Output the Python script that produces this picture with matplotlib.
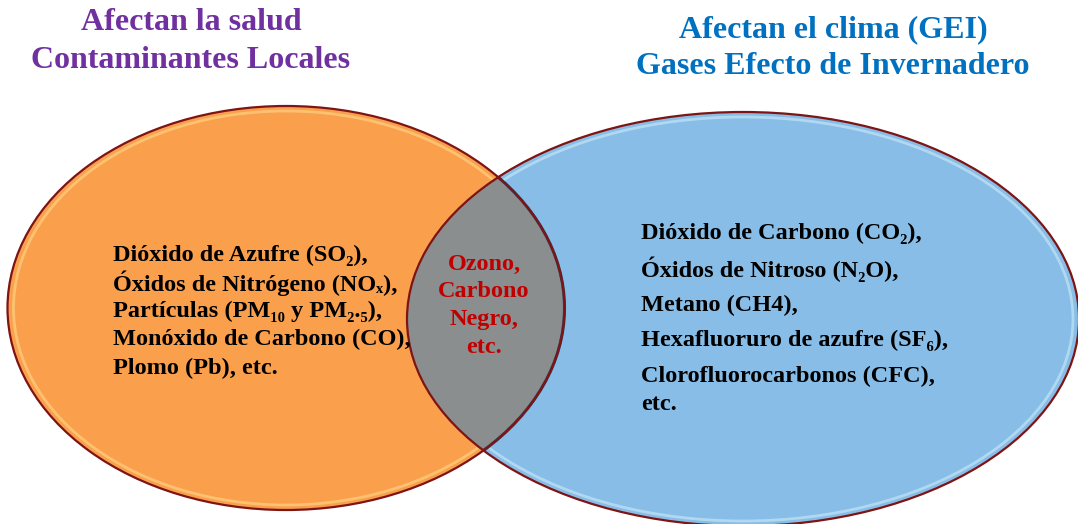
import matplotlib.pyplot as plt
from matplotlib.patches import Ellipse

# texts of the diagram
title_left = ['Afectan la salud', 'Contaminantes Locales']
title_right = ['Afectan el clima (GEI)', 'Gases Efecto de Invernadero']
salud = ['Dióxido de Azufre (SO₂),',
         'Óxidos de Nitrógeno (NOₓ),',
         'Partículas (PM₁₀ y PM₂.₅),',
         'Monóxido de Carbono (CO),',
         'Plomo (Pb), etc.']
ambos = ['Ozono,', 'Carbono', 'Negro,', 'etc.']
clima = ['Dióxido de Carbono (CO₂),',
         'Óxidos de Nitroso (N₂O),',
         'Metano (CH4),',
         'Hexafluoruro de azufre (SF₆),',
         'Clorofluorocarbonos (CFC),',
         'etc.']

fig = plt.figure(figsize=(10.78, 5.24), dpi=100)
ax = fig.add_axes([0, 0, 1, 1])
ax.set_xlim(0, 1078)
ax.set_ylim(524, 0)
ax.axis('off')

orange = '#FAA04C'
blue = '#87BDE6'
edge = '#7E1414'

lc, lw_, lh = (286, 308), 557, 404
rc, rw, rh = (743, 319), 672, 414

left = Ellipse(lc, lw_, lh, facecolor=orange, edgecolor='none', zorder=1)
right = Ellipse(rc, rw, rh, facecolor=blue, edgecolor='none', zorder=2)
ax.add_patch(left)
ax.add_patch(right)

# light inner rims (under the overlap)
ax.add_patch(Ellipse(lc, lw_ - 12, lh - 10, facecolor='none', edgecolor='#FFD98A',
                     lw=2, alpha=0.6, zorder=1.5))
ax.add_patch(Ellipse(rc, rw - 12, rh - 10, facecolor='none', edgecolor='#CDEBFA',
                     lw=2, alpha=0.6, zorder=2.5))

# overlap region: left ellipse clipped by the right one
inter = Ellipse(lc, lw_, lh, facecolor='#8A8E8E', edgecolor='#2F3F5F',
                lw=2.2, zorder=3)
ax.add_patch(inter)
inter.set_clip_path(right)

# outlines
ax.add_patch(Ellipse(lc, lw_, lh, facecolor='none', edgecolor=edge, lw=1.6, zorder=5))
ax.add_patch(Ellipse(rc, rw, rh, facecolor='none', edgecolor=edge, lw=1.6, zorder=5))

serif = 'Liberation Serif'

for i, t in enumerate(title_left):
    ax.text(191, 23 + i * 38, t, color='#7030A0', fontsize=23, fontweight='bold',
            family=serif, ha='center', va='center', zorder=6)
for i, t in enumerate(title_right):
    ax.text(833, 30 + i * 37, t, color='#0070C0', fontsize=23, fontweight='bold',
            family=serif, ha='center', va='center', zorder=6)

for i, t in enumerate(salud):
    ax.text(113, 255 + i * 28.3, t, color='black', fontsize=17.5, fontweight='bold',
            family=serif, ha='left', va='center', zorder=6)

for i, t in enumerate(ambos):
    ax.text(484, 264 + i * 27.7, t, color='#C00000', fontsize=17.5, fontweight='bold',
            family=serif, ha='center', va='center', zorder=6)

clima_y = [233, 269, 305, 340, 376, 404]
for y, t in zip(clima_y, clima):
    ax.text(641, y, t, color='black', fontsize=17.5, fontweight='bold',
            family=serif, ha='left', va='center', zorder=6)

fig.savefig('out.png', dpi=100)
